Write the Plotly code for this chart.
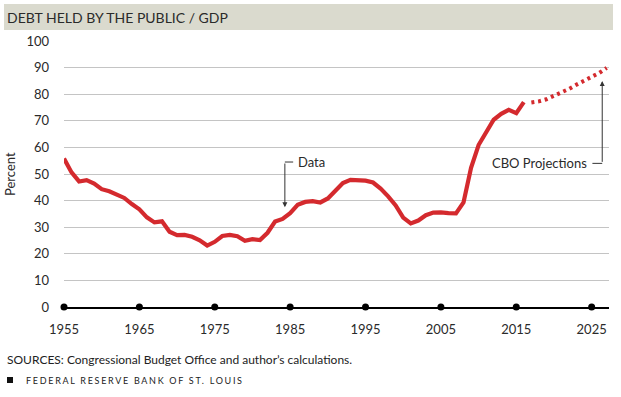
import plotly.graph_objects as go

# ---- data ----
hist_years = list(range(1955, 2017))
hist_values = [55.8, 50.6, 47.2, 47.7, 46.4, 44.3, 43.5, 42.3, 41.0, 38.7,
               36.7, 33.7, 31.8, 32.2, 28.3, 27.0, 27.1, 26.4, 25.1, 23.1,
               24.5, 26.7, 27.1, 26.6, 24.9, 25.5, 25.2, 27.9, 32.1, 33.1,
               35.3, 38.4, 39.5, 39.8, 39.3, 40.8, 43.8, 46.6, 47.8, 47.7,
               47.5, 46.8, 44.5, 41.6, 38.2, 33.6, 31.4, 32.5, 34.5, 35.5,
               35.6, 35.3, 35.2, 39.3, 52.3, 60.9, 65.9, 70.4, 72.6, 74.1,
               72.9, 77.0]
proj_years = list(range(2017, 2028))
proj_values = [76.9, 77.3, 78.1, 79.3, 80.6, 82.0, 83.6, 85.0, 86.4, 88.0, 89.9]
tick_years = list(range(1955, 2026, 10))
y_ticks = list(range(0, 101, 10))

RED = "#d42a2e"
FONT = "Lato"

fig = go.Figure()

fig.add_trace(go.Scatter(x=hist_years, y=hist_values, mode="lines",
                         line=dict(color=RED, width=4.2), hoverinfo="skip"))
fig.add_trace(go.Scatter(x=proj_years, y=proj_values, mode="lines",
                         line=dict(color=RED, width=4, dash="3px,3.8px"),
                         hoverinfo="skip"))
fig.add_trace(go.Scatter(x=tick_years, y=[0] * len(tick_years), mode="markers",
                         marker=dict(color="black", size=7), cliponaxis=False,
                         hoverinfo="skip"))

fig.update_layout(
    width=621, height=397,
    margin=dict(l=64, r=12, t=41, b=90),
    paper_bgcolor="white", plot_bgcolor="white",
    showlegend=False,
    font=dict(family=FONT, color="#2a2a2a", size=13),
    xaxis=dict(range=[1955, 2027.3], tickvals=tick_years,
               showgrid=False, zeroline=False, showline=True,
               linecolor="black", linewidth=1.5, ticks="",
               ticklabelstandoff=10, tickfont=dict(size=13)),
    yaxis=dict(range=[0, 100], tickvals=y_ticks, showgrid=True,
               gridcolor="#c4c4c4", gridwidth=1, zeroline=False,
               showline=False, ticks="", ticklabelstandoff=14,
               tickfont=dict(size=13)),
)

# title bar
fig.add_shape(type="rect", xref="paper", yref="paper",
              x0=-60 / 545, x1=549 / 545, y0=(307 - 30) / 266, y1=(307 - 4) / 266,
              fillcolor="#dadace", line=dict(width=0), layer="below")
fig.add_annotation(xref="paper", yref="paper", x=-59 / 545, y=(307 - 17) / 266,
                   text="DEBT HELD BY THE PUBLIC / GDP", showarrow=False,
                   xanchor="left", yanchor="middle",
                   font=dict(size=14, color="#2a2a2a"))

# y axis title
fig.add_annotation(xref="paper", yref="paper", x=-54 / 545, y=0.5,
                   text="Percent", textangle=-90, showarrow=False,
                   xanchor="center", yanchor="middle", font=dict(size=13))

# Data callout
fig.add_shape(type="line", xref="x", yref="y", x0=1984.3, x1=1985.4,
              y0=54.5, y1=54.5, line=dict(color="#333", width=1))
fig.add_annotation(x=1984.3, y=37.5, ax=1984.3, ay=54.5, axref="x", ayref="y",
                   xref="x", yref="y", showarrow=True, arrowhead=2,
                   arrowsize=1, arrowwidth=1, arrowcolor="#333", text="")
fig.add_annotation(x=1985.8, y=54.5, xref="x", yref="y", text="Data",
                   showarrow=False, xanchor="left", yanchor="middle",
                   font=dict(size=13))

# CBO callout
fig.add_shape(type="line", xref="x", yref="y", x0=2025.1, x1=2026.4,
              y0=54.0, y1=54.0, line=dict(color="#333", width=1))
fig.add_annotation(x=2026.4, y=85.0, ax=2026.4, ay=54.0, axref="x", ayref="y",
                   xref="x", yref="y", showarrow=True, arrowhead=2,
                   arrowsize=1, arrowwidth=1, arrowcolor="#333", text="")
fig.add_annotation(x=2024.6, y=54.0, xref="x", yref="y", text="CBO Projections",
                   showarrow=False, xanchor="right", yanchor="middle",
                   font=dict(size=13))

# sources & footer
fig.add_annotation(xref="paper", yref="paper", x=-59 / 545, y=(307 - 359) / 266,
                   text="SOURCES: Congressional Budget Office and author\u2019s calculations.",
                   showarrow=False, xanchor="left", yanchor="middle",
                   font=dict(size=12, color="#222"))
fig.add_shape(type="rect", xref="paper", yref="paper",
              x0=-57 / 545, x1=-51 / 545, y0=(307 - 383) / 266, y1=(307 - 377) / 266,
              fillcolor="#111", line=dict(width=0))
fig.add_annotation(xref="paper", yref="paper", x=-40 / 545, y=(307 - 380) / 266,
                   text="<span style='letter-spacing:1.7px'>FEDERAL RESERVE BANK OF ST. LOUIS</span>",
                   showarrow=False, xanchor="left", yanchor="middle",
                   font=dict(size=9, color="#222"))

fig.write_html("out.html", config={"displayModeBar": False},
               post_script="document.body.style.margin='0';")
